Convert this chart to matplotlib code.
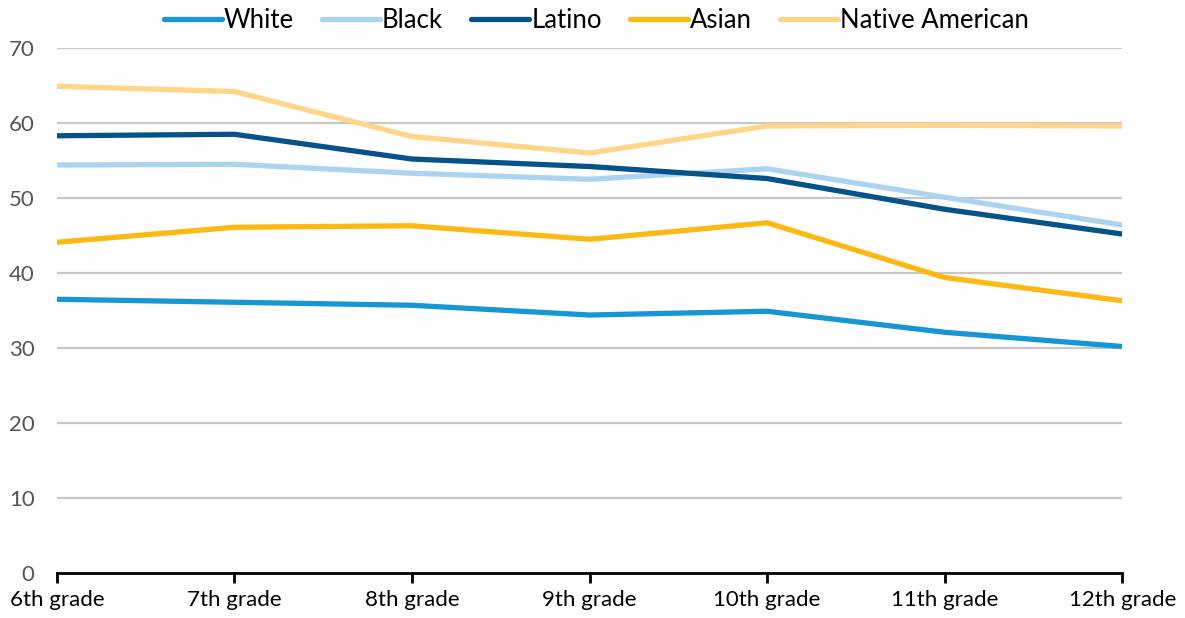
import matplotlib
matplotlib.use('Agg')
import matplotlib.pyplot as plt

# 数据：按年级的各族群比例
grades = ['6th grade', '7th grade', '8th grade', '9th grade',
          '10th grade', '11th grade', '12th grade']
white = [36.5, 36.1, 35.7, 34.4, 34.9, 32.1, 30.2]
black = [54.4, 54.5, 53.3, 52.5, 53.9, 50.1, 46.4]
latino = [58.3, 58.5, 55.2, 54.2, 52.6, 48.5, 45.2]
asian = [44.1, 46.1, 46.3, 44.5, 46.7, 39.4, 36.3]
native = [64.9, 64.2, 58.2, 56.0, 59.6, 59.7, 59.6]

series = [
    ('White', white, '#1696d2'),
    ('Black', black, '#acd4f0'),
    ('Latino', latino, '#06538a'),
    ('Asian', asian, '#fdb913'),
    ('Native American', native, '#fdd68a'),
]

plt.rcParams['font.family'] = ['Lato', 'DejaVu Sans']

fig = plt.figure(figsize=(11.85, 6.18), dpi=100)
ax = fig.add_axes([0.048, 0.0728, 0.899, 0.8495])

x = list(range(len(grades)))
for name, vals, color in series:
    ax.plot(x, vals, color=color, lw=3.8, label=name,
            solid_capstyle='round', solid_joinstyle='round', zorder=3)

ax.set_xlim(0, len(grades) - 1)
ax.set_ylim(0, 70)
ax.set_yticks(range(0, 71, 10))
ax.set_xticks(x)
ax.set_xticklabels(grades)

ax.grid(axis='y', color='#c8c8c8', lw=1.6, zorder=0)
ax.set_axisbelow(True)
for s in ['top', 'right', 'left']:
    ax.spines[s].set_visible(False)
ax.spines['bottom'].set_linewidth(2)
ax.spines['bottom'].set_color('black')
ax.spines['bottom'].set_zorder(4)

ax.tick_params(axis='y', length=0, pad=16, labelsize=16, labelcolor='#555555')
ax.tick_params(axis='x', length=7, width=2, pad=5, labelsize=16, labelcolor='black')

leg = ax.legend(loc='center', bbox_to_anchor=(0.5065, 1.053), ncol=5,
                frameon=False, fontsize=18.5, handlelength=2.25,
                handletextpad=0.08, columnspacing=1.1)

fig.savefig('out.png', dpi=100)
